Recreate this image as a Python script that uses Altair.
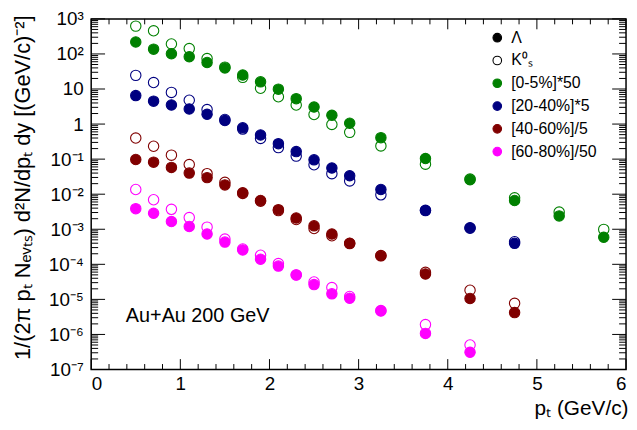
import altair as alt
import pandas as pd

# ---------------- data ----------------
pt = [0.5, 0.7, 0.9, 1.1, 1.3, 1.5, 1.7, 1.9, 2.1, 2.3, 2.5, 2.7, 2.9,
      3.25, 3.75, 4.25, 4.75, 5.25, 5.75]

lam_0_5 = [220, 137, 101, 83, 57, 40, 25, 16, 9.9, 5.3, 3.06, 1.78, 1.06,
           0.41, 0.104, 0.026, 0.0066, 0.0024, 0.00059]
k0s_0_5 = [622, 458, 193, 142, 74, 42, 21.5, 10.5, 6.0, 3.5, 1.87, 0.975, 0.58,
           0.238, 0.072, 0.027, 0.0079, 0.0031, 0.00099]

lam_20_40 = [6.5, 4.5, 3.5, 2.7, 1.9, 1.26, 0.78, 0.49, 0.276, 0.164, 0.0955, 0.0557, 0.0337,
             0.0136, 0.00347, 0.0011, 0.000397]
k0s_20_40 = [24.5, 15.3, 8.0, 4.8, 2.6, 1.35, 0.72, 0.39, 0.213, 0.122, 0.069, 0.0385, 0.0239,
             0.0096, 0.0034, 0.00107, 0.00044]

lam_40_60 = [0.0975, 0.082, 0.058, 0.040, 0.0297, 0.0184, 0.011, 0.0066, 0.00362, 0.0021,
             0.00125, 0.00073, 0.0004, 0.000174, 5.3e-5, 1.06e-5, 4.2e-6]
k0s_40_60 = [0.40, 0.233, 0.13, 0.070, 0.0385, 0.0218, 0.0105, 0.0063, 0.0034, 0.0019,
             0.00105, 0.00065, 0.00039, 0.000178, 5.9e-5, 1.82e-5, 7.7e-6]

lam_60_80 = [0.00387, 0.00285, 0.00166, 0.0012, 0.00073, 0.00043, 0.000257, 0.00014, 8.9e-5,
             4.95e-5, 2.64e-5, 1.44e-5, 1.08e-5, 4.65e-6, 1.07e-6, 3.1e-7]
k0s_60_80 = [0.0136, 0.00695, 0.0037, 0.00215, 0.00115, 0.000525, 0.000274, 0.000182, 0.000105,
             5.0e-5, 3.14e-5, 2.17e-5, 1.21e-5, 4.8e-6, 1.91e-6, 5.0e-7]

cent_labels = ["[0-5%]*50", "[20-40%]*5", "[40-60%]/5", "[60-80%]/50"]
cent_colors = ["#008000", "#000080", "#800000", "#ff00ff"]
species_labels = ["Λ", "K⁰ₛ"]

x_major = [0, 1, 2, 3, 4, 5, 6]
x_minor = [round(i * 0.2, 1) for i in range(31) if i % 5 != 0]
y_major = [10.0 ** e for e in range(-7, 4)]
y_minor = [k * 10.0 ** e for e in range(-7, 3) for k in range(2, 10)]
y_tick_text = ["10⁻⁷", "10⁻⁶", "10⁻⁵", "10⁻⁴", "10⁻³", "10⁻²", "10⁻¹", "1", "10", "10²", "10³"]

# ---------------- build table ----------------
series = [
    (cent_labels[0], lam_0_5, k0s_0_5),
    (cent_labels[1], lam_20_40, k0s_20_40),
    (cent_labels[2], lam_40_60, k0s_40_60),
    (cent_labels[3], lam_60_80, k0s_60_80),
]
rows = []
for cent, lam, k0 in series:
    for p, v in zip(pt, k0):
        rows.append({"pt": p, "y": v, "cent": cent, "species": species_labels[1], "ord": 0})
for cent, lam, k0 in series:
    for p, v in zip(pt, lam):
        rows.append({"pt": p, "y": v, "cent": cent, "species": species_labels[0], "ord": 1})
df = pd.DataFrame(rows)

W, H = 540, 354
FONT = "Liberation Sans"

xs = alt.Scale(domain=[0, 6], nice=False, zero=False)
ys = alt.Scale(type="log", domain=[1e-7, 1e3], nice=False)

label_expr = "[" + ",".join("'%s'" % t for t in y_tick_text) + "][round(log(datum.value)/LN10)+7]"

x_axis = alt.Axis(values=x_major, ticks=False, domain=False, grid=False,
                  labelFontSize=19, labelPadding=5, labelFont=FONT, labelColor="black",
                  title="pₜ (GeV/c)", titleFontSize=21, titleFont=FONT, titleColor="black",
                  titleAlign="right", titleBaseline="middle",
                  titleX=W + 2, titleY=39, titleFontWeight="normal")
y_axis = alt.Axis(values=y_major, ticks=False, domain=False, grid=False,
                  labelExpr=label_expr, labelFontSize=19, labelPadding=8, labelFont=FONT,
                  labelColor="black",
                  title="1/(2π pₜ Nₑᵥₜₛ) d²N/dpₜ dy [(GeV/c)⁻²]",
                  titleFontSize=22, titleFont=FONT, titleColor="black", titleAngle=270,
                  titleAlign="right", titleBaseline="alphabetic",
                  titleX=-62, titleY=-4, titleFontWeight="normal")

cent_scale = alt.Scale(domain=cent_labels, range=cent_colors)

points = alt.Chart(df).mark_point(shape="circle", filled=True, size=110, strokeWidth=1.1,
                                  opacity=1).encode(
    x=alt.X("pt:Q", scale=xs, axis=x_axis),
    y=alt.Y("y:Q", scale=ys, axis=y_axis),
    fill=alt.Fill("cent:N", scale=cent_scale, legend=None),
    stroke=alt.Stroke("cent:N", scale=cent_scale, legend=None),
    fillOpacity=alt.FillOpacity("species:N",
                                scale=alt.Scale(type="ordinal", domain=species_labels, range=[1, 0]),
                                legend=None),
    order=alt.Order("ord:Q"),
)

# legend: a layer with no visible rows, only carrying the legend scale
legend_keys = species_labels + cent_labels
legend_fill = ["black", "white"] + cent_colors
legend_stroke = ["black", "black"] + cent_colors
leg_df = pd.DataFrame({"k": legend_keys})
leg_def = alt.Legend(title=None, orient="none", legendX=402, legendY=11,
                     labelFontSize=16, labelFont=FONT, labelColor="black", symbolSize=75,
                     symbolType="circle", symbolStrokeWidth=1.1, rowPadding=7,
                     labelOffset=6, padding=0)
legend_layer = alt.Chart(leg_df).transform_filter("false").mark_point(
    shape="circle", filled=True, opacity=1).encode(
    x=alt.X("pt:Q", scale=xs, axis=x_axis),
    y=alt.Y("y:Q", scale=ys, axis=y_axis),
    fill=alt.Fill("k:N", scale=alt.Scale(domain=legend_keys, range=legend_fill), legend=leg_def),
    stroke=alt.Stroke("k:N", scale=alt.Scale(domain=legend_keys, range=legend_stroke), legend=leg_def),
)


def xticks(vals, length):
    d = pd.DataFrame({"v": vals})
    bottom = alt.Chart(d).mark_rule(color="black", strokeWidth=1).encode(
        x=alt.X("v:Q", scale=xs, axis=x_axis), y=alt.value(H), y2=alt.value(H - length))
    top = alt.Chart(d).mark_rule(color="black", strokeWidth=1).encode(
        x=alt.X("v:Q", scale=xs, axis=x_axis), y=alt.value(0), y2=alt.value(length))
    return [bottom, top]


def yticks(vals, length):
    d = pd.DataFrame({"v": vals})
    left = alt.Chart(d).mark_rule(color="black", strokeWidth=1).encode(
        y=alt.Y("v:Q", scale=ys, axis=y_axis), x=alt.value(0), x2=alt.value(length))
    right = alt.Chart(d).mark_rule(color="black", strokeWidth=1).encode(
        y=alt.Y("v:Q", scale=ys, axis=y_axis), x=alt.value(W - length), x2=alt.value(W))
    return [left, right]


ann = alt.Chart(pd.DataFrame({"t": ["Au+Au 200 GeV"]})).mark_text(
    align="left", baseline="middle", fontSize=20, font=FONT, color="black").encode(
    text="t:N", x=alt.value(35), y=alt.value(300))

layers = [points, legend_layer] + xticks(x_major, 10.5) + xticks(x_minor, 5.5) + \
    yticks(y_major, 14) + yticks(y_minor, 7) + [ann]

chart = alt.layer(*layers).resolve_scale(
    fill="independent", stroke="independent"
).properties(
    width=W, height=H,
    autosize=alt.AutoSizeParams(type="none"),
    padding={"left": 84, "top": 9, "right": 3, "bottom": 50},
).configure_view(stroke="black", strokeWidth=1.5)

chart.save("out.html", embed_options={"renderer": "svg", "actions": False})
